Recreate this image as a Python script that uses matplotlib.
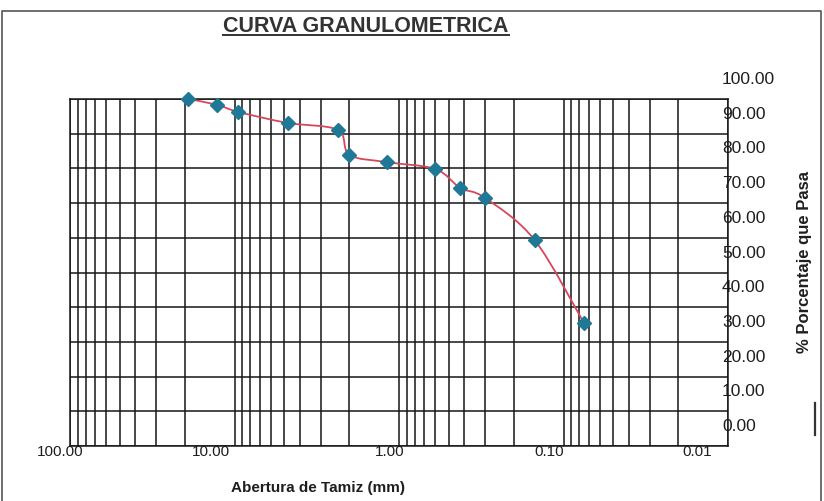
"""
Curva granulometrica: % que pasa vs abertura de tamiz (eje log invertido).
Writes out.png (824x501).
"""

import numpy as np
import matplotlib
matplotlib.use("Agg")
import matplotlib.pyplot as plt
from matplotlib.path import Path
from matplotlib.patches import PathPatch
from matplotlib.lines import Line2D
from matplotlib.transforms import ScaledTranslation
from matplotlib.ticker import FixedLocator, LogLocator, NullFormatter

# sieve openings (mm) and % passing
abertura_mm = [19.05, 12.7, 9.525, 4.75, 2.36, 2.00, 1.18, 0.60, 0.425, 0.30, 0.15, 0.075]
pct_pasa = [100.0, 98.3, 96.3, 93.1, 91.1, 83.9, 81.8, 79.8, 74.4, 71.5, 59.4, 35.4]

x_ticks = [100, 10, 1, 0.1, 0.01]
x_ticklabels = ["100.00", "10.00", "1.00", "0.10", "0.01"]
y_ticks = [0, 10, 20, 30, 40, 50, 60, 70, 80, 90, 100]
y_ticklabels = ["0.00", "10.00", "20.00", "30.00", "40.00", "50.00",
                "60.00", "70.00", "80.00", "90.00", "100.00"]

TITLE = "CURVA GRANULOMETRICA"
XLABEL = "Abertura de Tamiz (mm)"
YLABEL = "% Porcentaje que Pasa"

# the labels in the original sit a bit off their grid lines
X_LABEL_SHIFT_PX = [-10, -24, -9, -14, -31]
Y_LABEL_SHIFT_PX = 21

GRID_COLOR = "#161616"
LINE_COLOR = "#d8465a"
MARKER_COLOR = "#1f7896"
TEXT_COLOR = "#1e1e1e"


def smooth_path(xs, ys):
    """Excel-like smoothed line: Catmull-Rom segments as cubic Beziers in log-x space."""
    pts = np.column_stack([np.log10(xs), np.asarray(ys, dtype=float)])
    n = len(pts)
    verts = [pts[0]]
    codes = [Path.MOVETO]
    for i in range(n - 1):
        p0 = pts[max(i - 1, 0)]
        p1 = pts[i]
        p2 = pts[i + 1]
        p3 = pts[min(i + 2, n - 1)]
        verts += [p1 + (p2 - p0) / 6.0, p2 - (p3 - p1) / 6.0, p2]
        codes += [Path.CURVE4] * 3
    verts = np.array(verts)
    verts[:, 0] = 10 ** verts[:, 0]
    return Path(verts, codes)


def main():
    plt.rcParams["font.family"] = ["Liberation Sans", "DejaVu Sans"]

    fig = plt.figure(figsize=(8.24, 5.01), dpi=100)
    fig.patch.set_facecolor("white")
    ax = fig.add_axes([70 / 824, 55 / 501, 658 / 824, 347 / 501])

    ax.set_xscale("log")
    ax.set_xlim(100, 0.01)
    ax.set_ylim(0, 100)

    ax.xaxis.set_major_locator(FixedLocator(x_ticks))
    ax.set_xticks(x_ticks, x_ticklabels)
    ax.xaxis.set_minor_locator(LogLocator(base=10, subs=np.arange(2, 10), numticks=100))
    ax.xaxis.set_minor_formatter(NullFormatter())
    ax.yaxis.tick_right()
    ax.set_yticks(y_ticks, y_ticklabels)

    ax.grid(True, which="both", axis="x", color=GRID_COLOR, lw=1.1)
    ax.grid(True, which="major", axis="y", color=GRID_COLOR, lw=1.1)
    for sp in ax.spines.values():
        sp.set_color(GRID_COLOR)
        sp.set_linewidth(1.1)

    ax.tick_params(axis="x", which="both", length=0, pad=-1, labelsize=11, colors=TEXT_COLOR)
    ax.tick_params(axis="y", which="both", length=0, pad=-4.3, labelsize=12.5, colors=TEXT_COLOR)

    # smoothed curve + markers
    ax.add_patch(PathPatch(smooth_path(abertura_mm, pct_pasa), fill=False,
                           edgecolor=LINE_COLOR, lw=1.3, zorder=3, clip_on=False))
    ax.plot(abertura_mm, pct_pasa, ls="none", marker="D", ms=7,
            color=MARKER_COLOR, mec=MARKER_COLOR, zorder=4, clip_on=False)

    # shift tick labels like in the original drawing
    for tick, dx in zip(ax.xaxis.get_major_ticks(), X_LABEL_SHIFT_PX):
        lbl = tick.label1
        lbl.set_transform(lbl.get_transform() + ScaledTranslation(dx / 100, 0, fig.dpi_scale_trans))
    for tick in ax.yaxis.get_major_ticks():
        lbl = tick.label2
        lbl.set_transform(lbl.get_transform()
                          + ScaledTranslation(0, Y_LABEL_SHIFT_PX / 100, fig.dpi_scale_trans))

    ax.set_xlabel(XLABEL, fontsize=11, fontweight="bold", color=TEXT_COLOR)
    ax.xaxis.set_label_coords((318 - 70) / 658, (446 - 488) / 347)
    ax.xaxis.label.set_va("center")

    fig.text(805 / 824, 1 - 262 / 501, YLABEL, rotation=90, ha="center", va="center",
             fontsize=12, fontweight="bold", color=TEXT_COLOR)

    title = fig.text(366 / 824, 1 - 27 / 501, TITLE, ha="center", va="center",
                     fontsize=15.5, fontweight="bold", color="#333333")
    fig.canvas.draw()
    bb = title.get_window_extent().transformed(fig.transFigure.inverted())
    fig.add_artist(Line2D([bb.x0, bb.x1], [bb.y0 + 0.004, bb.y0 + 0.004],
                          transform=fig.transFigure, color="#333333", lw=1.4))

    # outer frame of the sheet and the small stray mark at the right
    frame_x = [2 / 824, 2 / 824, 821 / 824, 821 / 824]
    frame_y = [0.0, 1 - 11 / 501, 1 - 11 / 501, 0.0]
    fig.add_artist(Line2D(frame_x, frame_y, transform=fig.transFigure, color="#555555", lw=1.2))
    fig.add_artist(Line2D([815 / 824, 815 / 824], [1 - 403 / 501, 1 - 435 / 501],
                          transform=fig.transFigure, color="#333333", lw=1.6))

    fig.savefig("out.png", dpi=100, facecolor="white")
    plt.close(fig)


if __name__ == "__main__":
    main()
